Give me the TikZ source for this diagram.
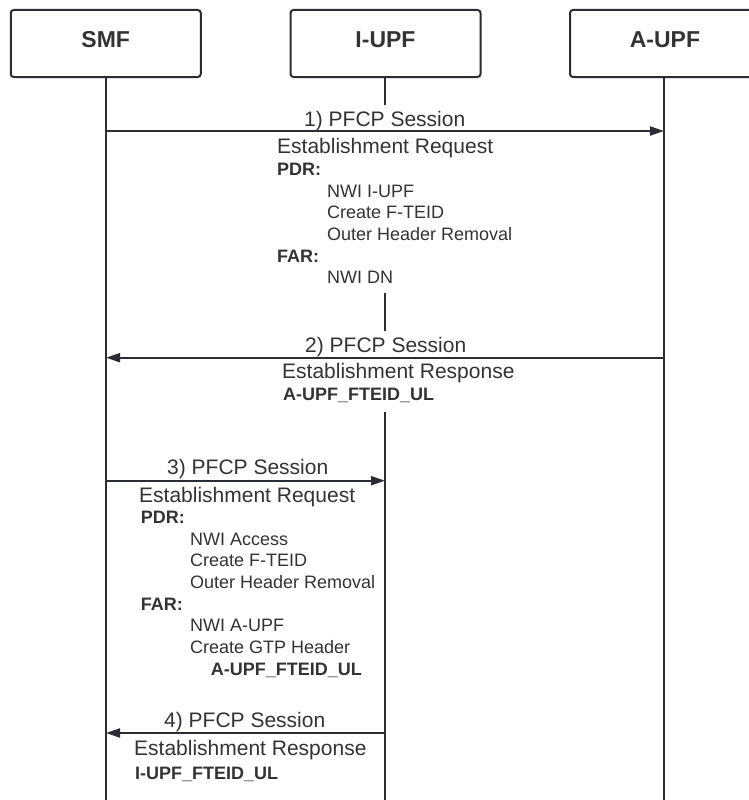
\documentclass[tikz,border=0pt]{standalone}
\usepackage{fontspec}
\setmainfont{Liberation Sans}
\usetikzlibrary{arrows.meta}
\definecolor{ink}{HTML}{2A2D34}
\definecolor{txt}{HTML}{333333}
\tikzset{
  actor/.style={draw=ink, line width=2pt, rounded corners=3pt, fill=white,
    minimum width=190pt, minimum height=67pt, inner sep=0pt, text depth=8pt,
    text=txt, font=\fontsize{23}{27}\selectfont\bfseries},
  lifeline/.style={draw=ink, line width=2pt},
  msgarrow/.style={draw=ink, line width=2pt, -{Triangle[length=14pt,width=9pt]}},
  lbl/.style={anchor=base west, inner sep=0pt, text=txt, font=\fontsize{21}{25}\selectfont},
  body/.style={anchor=base west, inner sep=0pt, text=txt, font=\fontsize{18}{21.7}\selectfont},
  bodyb/.style={body, font=\fontsize{18}{21.7}\selectfont\bfseries}
}
\begin{document}
\begin{tikzpicture}[x=1pt, y=-1pt]
\useasboundingbox[fill=white] (0,0) rectangle (749,800);

% participants
\node[actor] (smf) at (105.75,43.5) {SMF};
\node[actor] (iupf) at (385.5,43.5) {I-UPF};
\node[actor] (aupf) at (665,43.5) {A-UPF};

% lifeline anchors
\coordinate (smfEnd) at (106,800);
\coordinate (aupfEnd) at (664,800);
\coordinate (iupfA) at (385,105);
\coordinate (iupfB) at (385,293);
\coordinate (iupfC) at (385,331);
\coordinate (iupfD) at (385,412);
\coordinate (iupfEnd) at (385,800);

% lifelines (the I-UPF one is broken behind the message texts)
\draw[lifeline] (smf.south -| smfEnd) -- (smfEnd);
\draw[lifeline] (aupf.south -| aupfEnd) -- (aupfEnd);
\draw[lifeline] (iupf.south -| iupfA) -- (iupfA);
\draw[lifeline] (iupfB) -- (iupfC);
\draw[lifeline] (iupfD) -- (iupfEnd);

% message end points on the lifelines
\coordinate (m1s) at (106,131);
\coordinate (m1e) at (664,131);
\coordinate (m2s) at (664,357.7);
\coordinate (m2e) at (106,357.7);
\coordinate (m3s) at (106,480.7);
\coordinate (m3e) at (385,480.7);
\coordinate (m4s) at (385,733);
\coordinate (m4e) at (106,733);

% 1) request to A-UPF
\draw[msgarrow] (m1s) -- (m1e);
\node[lbl] (t1a) at (304,126) {1) PFCP Session};
\node[lbl] (t1b) at (277,153) {Establishment Request};
\node[bodyb] (t1c) at (277,175) {PDR:};
\node[body] (t1d) at (327,197) {NWI I-UPF};
\node[body] (t1e) at (327,218.5) {Create F-TEID};
\node[body] (t1f) at (327,240) {Outer Header Removal};
\node[bodyb] (t1g) at (277,262) {FAR:};
\node[body] (t1h) at (327,283.5) {NWI DN};

% 2) response from A-UPF
\draw[msgarrow] (m2s) -- (m2e);
\node[lbl] (t2a) at (305,352) {2) PFCP Session};
\node[lbl] (t2b) at (282,378) {Establishment Response};
\node[bodyb] (t2c) at (283,400) {A-UPF\_FTEID\_UL};

% 3) request to I-UPF
\draw[msgarrow] (m3s) -- (m3e);
\node[lbl] (t3a) at (167,474) {3) PFCP Session};
\node[lbl] (t3b) at (139,502.7) {Establishment Request};
\node[bodyb] (t3c) at (140.7,523) {PDR:};
\node[body] (t3d) at (190,545) {NWI Access};
\node[body] (t3e) at (190,566.7) {Create F-TEID};
\node[body] (t3f) at (190,588) {Outer Header Removal};
\node[bodyb] (t3g) at (140.7,610) {FAR:};
\node[body] (t3h) at (190,631.7) {NWI A-UPF};
\node[body] (t3i) at (190,653) {Create GTP Header};
\node[bodyb] (t3j) at (210.7,675) {A-UPF\_FTEID\_UL};

% 4) response from I-UPF
\draw[msgarrow] (m4s) -- (m4e);
\node[lbl] (t4a) at (164,727) {4) PFCP Session};
\node[lbl] (t4b) at (134,755) {Establishment Response};
\node[bodyb] (t4c) at (135,779) {I-UPF\_FTEID\_UL};
\end{tikzpicture}
\end{document}
